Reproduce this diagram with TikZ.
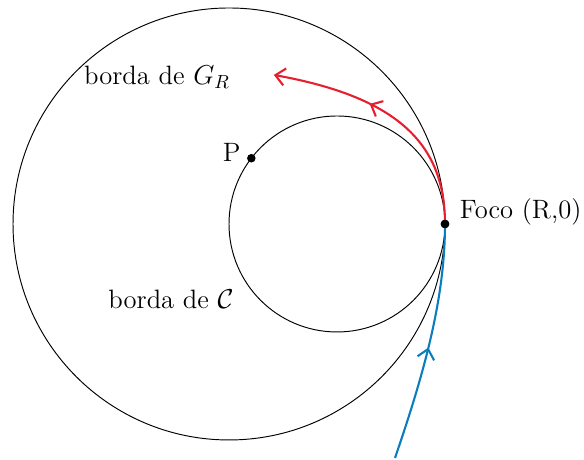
\documentclass[tikz,border=0pt]{standalone}
\definecolor{red1}{RGB}{230, 30, 45}
\definecolor{blue1}{RGB}{10, 125, 190}
\usepackage{tikz}
\usetikzlibrary{arrows.meta, positioning, calc, decorations.markings}
\usepackage{amsmath, amssymb}

\tikzset{
  rotulo/.style={font=\fontsize{14}{17}\selectfont, inner sep=2pt},
  ponto/.style={circle, fill=black, inner sep=0pt, minimum size=4.5pt},
  trajetoria/.style={line width=1.1pt, postaction={decorate}},
  meiaseta/.style={decoration={markings, mark=at position #1 with {\arrow{Straight Barb[length=5pt, width=9pt]}}}}
}

\begin{document}
\begin{tikzpicture}
  \useasboundingbox (-4.241,-4.370) rectangle (6.574,4.148);

  \coordinate (O) at (0,0);
  \coordinate (centroC) at (2,0);

  % bordas
  \draw[line width=0.5pt] (O) circle (4);
  \draw[line width=0.5pt] (centroC) circle (2);

  % trajetorias
  \node[ponto] (foco) at (4,0) {};
  \coordinate (entrada) at (3.074,-4.333);
  \coordinate (saida) at (0.83,2.76);
  \draw[blue1, trajetoria, meiaseta=0.48] (entrada) .. controls (3.6,-2.8) and (4,-1.4) .. (foco.center);
  \draw[red1, trajetoria, meiaseta=0.6, -{Straight Barb[length=5pt, width=9pt]}] (foco.center) .. controls (4,1.5) and (3.1,2.35) .. (saida);
  \node[ponto] at (foco) {};

  \node[ponto] (P) at ($(centroC)+(142.5:2)$) {};

  % rotulos
  \node[rotulo, anchor=west] (focolabel) at (4.2,0.22) {Foco (R,0)};
  \node[rotulo, left=1pt of P, yshift=3pt] (Plabel) {P};
  \node[rotulo] (GR) at (-1.333,2.722) {borda de $G_R$};
  \node[rotulo] (bordaC) at (-1.074,-1.389) {borda de $\mathcal{C}$};
\end{tikzpicture}
\end{document}
